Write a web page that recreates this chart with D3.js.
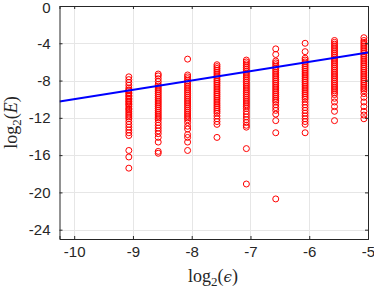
<!DOCTYPE html>
<html>
<head>
<meta charset="utf-8">
<script src="https://d3js.org/d3.v7.min.js"></script>
<style>
  body { margin: 0; background: #fff; }
  .tick text { font-family: "Liberation Sans", Arial, sans-serif; font-size: 15px; fill: #262626; }
  .lbl { font-family: "Liberation Serif", "Times New Roman", serif; font-size: 18px; fill: #262626; }
</style>
</head>
<body>
<svg width="374" height="289"></svg>
<script>
// column positions (log2 eps) and the errors
var colX = [-9.07, -8.57, -8.07, -7.57, -7.07, -6.57, -6.07, -5.57, -5.07];

var col1 = [-7.6, -7.9, -8.2, -8.5, -8.8, -9.0, -9.1, -9.3, -9.4, -9.6, -9.7, -9.9, -10.0, -10.2, -10.3, -10.5, -10.6, -10.8, -11.0, -11.1, -11.3, -11.5, -11.7, -11.9, -12.1, -12.4, -12.7, -13.0, -13.3, -13.6, -13.9, -15.5, -16.2, -17.4];
var col2 = [-7.3, -7.5, -7.8, -8.1, -8.4, -8.6, -8.8, -9.0, -9.2, -9.4, -9.6, -9.8, -10.0, -10.2, -10.4, -10.6, -10.8, -11.0, -11.2, -11.4, -11.6, -11.8, -12.0, -12.2, -12.5, -12.8, -13.1, -13.4, -13.7, -14.1, -14.6, -15.6, -15.8];
var col3 = [-5.7, -7.4, -7.6, -7.8, -8.0, -8.2, -8.4, -8.6, -8.8, -9.0, -9.2, -9.4, -9.6, -9.8, -10.0, -10.2, -10.4, -10.6, -10.8, -11.0, -11.2, -11.4, -11.6, -11.8, -12.0, -12.2, -12.5, -12.9, -13.2, -13.8, -14.1, -14.6, -15.5];
var col4 = [-6.3, -6.5, -6.7, -6.9, -7.1, -7.3, -7.5, -7.7, -7.9, -8.1, -8.3, -8.5, -8.7, -8.9, -9.1, -9.3, -9.5, -9.7, -9.9, -10.1, -10.3, -10.5, -10.7, -10.9, -11.1, -11.3, -11.5, -11.8, -12.1, -12.4, -12.7, -14.1];
var col5 = [-5.8, -6.0, -6.2, -6.4, -6.6, -6.8, -7.0, -7.2, -7.4, -7.6, -7.8, -8.0, -8.2, -8.4, -8.6, -8.8, -9.0, -9.2, -9.4, -9.6, -9.8, -10.0, -10.2, -10.4, -10.6, -10.8, -11.0, -11.3, -11.6, -11.9, -12.2, -12.5, -12.8, -13.0, -15.3, -19.1];
var col6 = [-4.6, -5.2, -5.9, -6.1, -6.3, -6.5, -6.7, -6.9, -7.1, -7.3, -7.5, -7.7, -7.9, -8.1, -8.3, -8.5, -8.7, -8.9, -9.1, -9.3, -9.5, -9.7, -9.9, -10.1, -10.3, -10.6, -10.9, -11.2, -11.6, -12.3, -13.6, -20.7];
var col7 = [-4.0, -4.9, -5.6, -5.8, -6.0, -6.2, -6.4, -6.6, -6.8, -7.0, -7.2, -7.4, -7.6, -7.8, -8.0, -8.2, -8.4, -8.6, -8.8, -9.0, -9.2, -9.4, -9.6, -9.8, -10.0, -10.3, -10.6, -10.9, -11.2, -11.5, -11.8, -12.1, -12.4, -12.7, -13.6];
var col8 = [-3.7, -3.9, -4.1, -4.3, -4.5, -4.7, -4.9, -5.1, -5.3, -5.5, -5.7, -5.9, -6.1, -6.3, -6.5, -6.7, -6.9, -7.1, -7.3, -7.5, -7.7, -7.9, -8.1, -8.3, -8.5, -8.7, -8.9, -9.1, -9.3, -9.5, -9.9, -10.3, -10.8, -11.3, -12.3];
var col9 = [-3.4, -3.7, -3.9, -4.1, -4.3, -4.5, -4.7, -4.9, -5.1, -5.3, -5.5, -5.7, -5.9, -6.1, -6.3, -6.5, -6.7, -6.9, -7.1, -7.3, -7.5, -7.7, -7.9, -8.1, -8.3, -8.5, -8.7, -8.9, -9.1, -9.4, -9.8, -10.3, -10.8, -11.3, -11.7, -12.1];
var cols = [col1, col2, col3, col4, col5, col6, col7, col8, col9];

// reference line E = eps
var lineX = [-10.25, -5];
var lineY = [-10.25, -5];

var xTicks = [-10, -9, -8, -7, -6, -5];
var yTicks = [0, -4, -8, -12, -16, -20, -24];

var svg = d3.select("svg");
var pLeft = 59.5, pRight = 368, pTop = 6, pBottom = 239;

var x = d3.scaleLinear().domain([-10.25, -5]).range([pLeft, pRight]);
var y = d3.scaleLinear().domain([-25, 0]).range([pBottom, pTop]);

// grid
svg.append("g")
   .selectAll("line").data(xTicks).enter().append("line")
   .attr("x1", function(d) { return Math.round(x(d)) + 0.5; })
   .attr("x2", function(d) { return Math.round(x(d)) + 0.5; })
   .attr("y1", pTop).attr("y2", pBottom)
   .attr("stroke", "#e6e6e6");
svg.append("g")
   .selectAll("line").data(yTicks).enter().append("line")
   .attr("y1", function(d) { return Math.round(y(d)) + 0.5; })
   .attr("y2", function(d) { return Math.round(y(d)) + 0.5; })
   .attr("x1", pLeft).attr("x2", pRight)
   .attr("stroke", "#e6e6e6");

// points
var pts = [];
cols.forEach(function(c, i) {
   c.forEach(function(v) { pts.push({ x: colX[i], y: v }); });
});

svg.append("clipPath").attr("id", "clip")
   .append("rect").attr("x", pLeft).attr("y", pTop)
   .attr("width", pRight - pLeft).attr("height", pBottom - pTop);

var plot = svg.append("g").attr("clip-path", "url(#clip)");

plot.selectAll("circle").data(pts).enter().append("circle")
   .attr("cx", function(d) { return x(d.x); })
   .attr("cy", function(d) { return y(d.y); })
   .attr("r", 3)
   .attr("fill", "none")
   .attr("stroke", "#ff0000")
   .attr("stroke-width", 1);

plot.append("path")
   .datum(d3.zip(lineX, lineY))
   .attr("d", d3.line().x(function(d) { return x(d[0]); }).y(function(d) { return y(d[1]); }))
   .attr("fill", "none")
   .attr("stroke", "#0000ff")
   .attr("stroke-width", 2);

// axes (ticks point inward, box on)
var ax = svg.append("g").attr("transform", "translate(0," + pBottom + ")")
   .call(d3.axisBottom(x).tickValues(xTicks).tickSize(-3).tickPadding(7).tickFormat(d3.format("d")));
var ay = svg.append("g").attr("transform", "translate(" + pLeft + ",0)")
   .call(d3.axisLeft(y).tickValues(yTicks).tickSize(-3).tickPadding(9).tickFormat(d3.format("d")));
var axT = svg.append("g").attr("transform", "translate(0," + pTop + ")")
   .call(d3.axisTop(x).tickValues(xTicks).tickSize(-3).tickFormat(""));
var ayR = svg.append("g").attr("transform", "translate(" + pRight + ",0)")
   .call(d3.axisRight(y).tickValues(yTicks).tickSize(-3).tickFormat(""));

[ax, ay, axT, ayR].forEach(function(a) {
   a.select(".domain").attr("stroke", "#262626");
   a.selectAll(".tick line").attr("stroke", "#262626");
});
// d3 uses U+2212 for minus; keep a plain hyphen like the original
svg.selectAll(".tick text").text(function() { return this.textContent.replace("\u2212", "-"); });
// the top "0" sits right at the window edge in the original; nudge it just inside
ay.selectAll(".tick text").filter(function(d) { return d === 0; }).attr("dy", "0.42em");

// labels
var xl = svg.append("text").attr("class", "lbl")
   .attr("x", 213).attr("y", 282).attr("text-anchor", "middle");
xl.append("tspan").text("log");
xl.append("tspan").attr("dy", 4).style("font-size", "13px").text("2");
xl.append("tspan").attr("dy", -4).text("(");
xl.append("tspan").style("font-family", "'DejaVu Serif', serif").style("font-style", "italic").style("font-size", "15px").text("\u03f5");
xl.append("tspan").text(")");

var yl = svg.append("text").attr("class", "lbl")
   .attr("transform", "translate(17," + ((pTop + pBottom) / 2) + ") rotate(-90)")
   .attr("text-anchor", "middle");
yl.append("tspan").text("log");
yl.append("tspan").attr("dy", 4).style("font-size", "13px").text("2");
yl.append("tspan").attr("dy", -4).text("(");
yl.append("tspan").style("font-style", "italic").text("E");
yl.append("tspan").text(")");
</script>
</body>
</html>
